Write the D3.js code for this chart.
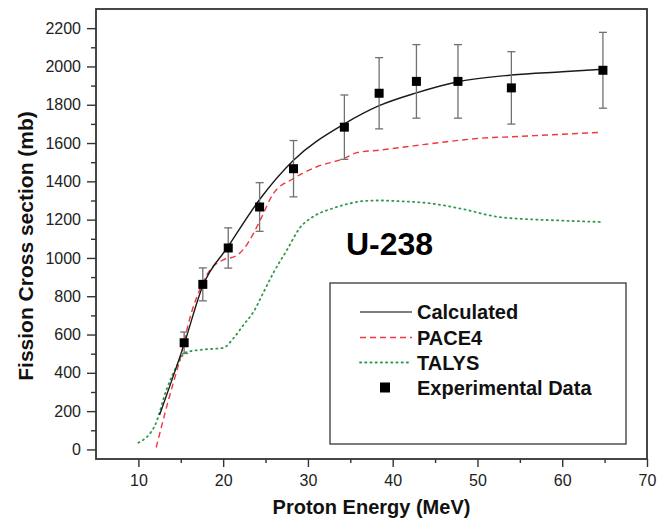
<!DOCTYPE html>
<html>
<head>
<meta charset="utf-8">
<script src="https://cdn.jsdelivr.net/npm/d3@7/dist/d3.min.js"></script>
<style>
  html, body { margin: 0; padding: 0; background: #fff; }
  svg { display: block; font-family: "Liberation Sans", Arial, sans-serif; }
</style>
</head>
<body>
<svg id="chart" width="670" height="525"></svg>
<script>
// Experimental fission cross sections (mb) with uncertainties
const expEnergy = [15.4, 17.6, 20.6, 24.3, 28.3, 34.3, 38.4, 42.8, 47.7, 54.0, 64.8];
const expSigma  = [557, 862, 1052, 1266, 1466, 1683, 1860, 1922, 1922, 1888, 1980];
const expError  = [56, 86, 105, 127, 147, 168, 186, 192, 192, 189, 198];

// Calculated excitation function
const calcEnergy = [12.5, 15.4, 17.6, 20.6, 24.3, 28.3, 34.3, 38.4, 42.8, 47.7, 54.0, 60.0, 64.8];
const calcSigma  = [180, 550, 855, 1060, 1305, 1510, 1700, 1795, 1862, 1920, 1955, 1972, 1985];

// PACE4 prediction
const paceEnergy = [12.1, 13.5, 14.9, 16.1, 17.5, 18.5, 20.0, 21.5, 22.4, 23.6, 24.4, 25.9, 28.3, 31.0, 34.3, 35.8, 38.5, 42.4, 46.4, 50.3, 54.2, 58.2, 64.5];
const paceSigma  = [10, 250, 470, 690, 860, 940, 990, 1010, 1045, 1130, 1200, 1335, 1415, 1475, 1520, 1550, 1563, 1585, 1607, 1625, 1633, 1642, 1656];

// TALYS prediction
const talysEnergy = [10.0, 12.0, 13.3, 14.7, 15.5, 17.3, 20.0, 21.2, 22.4, 23.6, 24.7, 25.9, 27.5, 29.1, 30.6, 33.0, 35.0, 36.5, 38.5, 40.5, 44.4, 48.3, 52.3, 56.2, 60.0, 64.5];
const talysSigma  = [35, 130, 310, 450, 505, 520, 530, 580, 650, 720, 815, 920, 1040, 1160, 1215, 1260, 1285, 1297, 1300, 1297, 1285, 1255, 1215, 1202, 1195, 1188];

// Axis ticks
const xTicks = [10, 20, 30, 40, 50, 60, 70];
const xMinorTicks = [15, 25, 35, 45, 55, 65];
const yTicks = [0, 200, 400, 600, 800, 1000, 1200, 1400, 1600, 1800, 2000, 2200];
const yMinorTicks = [100, 300, 500, 700, 900, 1100, 1300, 1500, 1700, 1900, 2100];

const legendLabels = ["Calculated", "PACE4", "TALYS", "Experimental Data"];

const svg = d3.select("#chart");
const plot = { left: 96, right: 647, top: 9, bottom: 459 };

const x = d3.scaleLinear().domain([5, 70]).range([plot.left, plot.right]);
const y = d3.scaleLinear().domain([-50, 2300]).range([plot.bottom, plot.top]);

const axisColor = "#333";

// Minor ticks
svg.append("g")
  .attr("transform", `translate(0,${plot.bottom})`)
  .call(d3.axisBottom(x).tickValues(xMinorTicks).tickSize(4).tickFormat(""))
  .call(g => g.select(".domain").remove())
  .call(g => g.selectAll("line").attr("stroke", axisColor).attr("stroke-width", 1.4));

svg.append("g")
  .attr("transform", `translate(${plot.left},0)`)
  .call(d3.axisLeft(y).tickValues(yMinorTicks).tickSize(5).tickFormat(""))
  .call(g => g.select(".domain").remove())
  .call(g => g.selectAll("line").attr("stroke", axisColor).attr("stroke-width", 1.4));

// Major ticks and labels
svg.append("g")
  .attr("transform", `translate(0,${plot.bottom})`)
  .call(d3.axisBottom(x).tickValues(xTicks).tickSize(8).tickFormat(d3.format("d")))
  .call(g => g.select(".domain").remove())
  .call(g => g.selectAll("line").attr("stroke", axisColor).attr("stroke-width", 1.4))
  .call(g => g.selectAll("text")
    .attr("y", 27).attr("dy", 0)
    .attr("fill", "#222").attr("font-size", 16)
    .attr("font-family", "'Liberation Sans', Arial, sans-serif"));

svg.append("g")
  .attr("transform", `translate(${plot.left},0)`)
  .call(d3.axisLeft(y).tickValues(yTicks).tickSize(9).tickPadding(6).tickFormat(d3.format("d")))
  .call(g => g.select(".domain").remove())
  .call(g => g.selectAll("line").attr("stroke", axisColor).attr("stroke-width", 1.4))
  .call(g => g.selectAll("text")
    .attr("fill", "#222").attr("font-size", 16)
    .attr("font-family", "'Liberation Sans', Arial, sans-serif"));

// Frame
svg.append("rect")
  .attr("x", plot.left).attr("y", plot.top)
  .attr("width", plot.right - plot.left).attr("height", plot.bottom - plot.top)
  .attr("fill", "none").attr("stroke", axisColor).attr("stroke-width", 1.8);

// Axis titles
svg.append("text")
  .attr("x", (plot.left + plot.right) / 2).attr("y", 514)
  .attr("text-anchor", "middle")
  .attr("font-size", 20).attr("font-weight", "bold").attr("fill", "#111")
  .text("Proton Energy (MeV)");

svg.append("text")
  .attr("transform", "translate(33,246) rotate(-90)")
  .attr("text-anchor", "middle")
  .attr("font-size", 21).attr("font-weight", "bold").attr("fill", "#111")
  .text("Fission Cross section (mb)");

// Curves
const line = d3.line()
  .x(d => x(d[0])).y(d => y(d[1]))
  .curve(d3.curveMonotoneX);

const series = [
  { e: talysEnergy, s: talysSigma, color: "#2e9a4a", width: 1.8, dash: "1.2,4", cap: "round" },
  { e: paceEnergy,  s: paceSigma,  color: "#f0393c", width: 1.4, dash: "6,4",   cap: "butt" },
  { e: calcEnergy,  s: calcSigma,  color: "#1a1a1a", width: 1.4, dash: null,    cap: "butt" }
];

series.forEach(sr => {
  svg.append("path")
    .datum(d3.zip(sr.e, sr.s))
    .attr("d", line)
    .attr("fill", "none")
    .attr("stroke", sr.color)
    .attr("stroke-width", sr.width)
    .attr("stroke-linecap", sr.cap)
    .attr("stroke-dasharray", sr.dash);
});

// Experimental points with error bars
const expData = d3.zip(expEnergy, expSigma, expError);
const capHalf = 4;
const bars = svg.append("g").attr("stroke", "#707070").attr("stroke-width", 1.3);
expData.forEach(([e, s, err]) => {
  const cx = x(e);
  bars.append("line").attr("x1", cx).attr("x2", cx).attr("y1", y(s + err)).attr("y2", y(s - err));
  bars.append("line").attr("x1", cx - capHalf).attr("x2", cx + capHalf).attr("y1", y(s + err)).attr("y2", y(s + err));
  bars.append("line").attr("x1", cx - capHalf).attr("x2", cx + capHalf).attr("y1", y(s - err)).attr("y2", y(s - err));
});

const sq = 9;
svg.append("g").selectAll("rect")
  .data(expData)
  .join("rect")
  .attr("x", d => x(d[0]) - sq / 2)
  .attr("y", d => y(d[1]) - sq / 2)
  .attr("width", sq).attr("height", sq)
  .attr("fill", "#000");

// Isotope label
svg.append("text")
  .attr("x", 346).attr("y", 255)
  .attr("font-size", 32).attr("font-weight", "bold").attr("fill", "#000")
  .text("U-238");

// Legend
const legend = svg.append("g");
legend.append("rect")
  .attr("x", 330).attr("y", 283).attr("width", 296).attr("height", 161)
  .attr("fill", "#fff").attr("stroke", "#444").attr("stroke-width", 1.4);

const rowY = [312, 337.5, 362.5, 387.5];
const legendStyles = [series[2], series[1], series[0]];
legendStyles.forEach((sr, i) => {
  legend.append("line")
    .attr("x1", 360).attr("x2", 412)
    .attr("y1", rowY[i]).attr("y2", rowY[i])
    .attr("stroke", i === 0 ? "#555" : sr.color)
    .attr("stroke-width", sr.width)
    .attr("stroke-linecap", sr.cap)
    .attr("stroke-dasharray", sr.dash);
});
legend.append("rect")
  .attr("x", 385 - 5).attr("y", rowY[3] - 5).attr("width", 10).attr("height", 10)
  .attr("fill", "#000");

legend.selectAll("text.lbl")
  .data(legendLabels)
  .join("text")
  .attr("class", "lbl")
  .attr("x", 417)
  .attr("y", (d, i) => rowY[i] + 7)
  .attr("font-size", 20).attr("font-weight", "bold").attr("fill", "#111")
  .text(d => d);
</script>
</body>
</html>
